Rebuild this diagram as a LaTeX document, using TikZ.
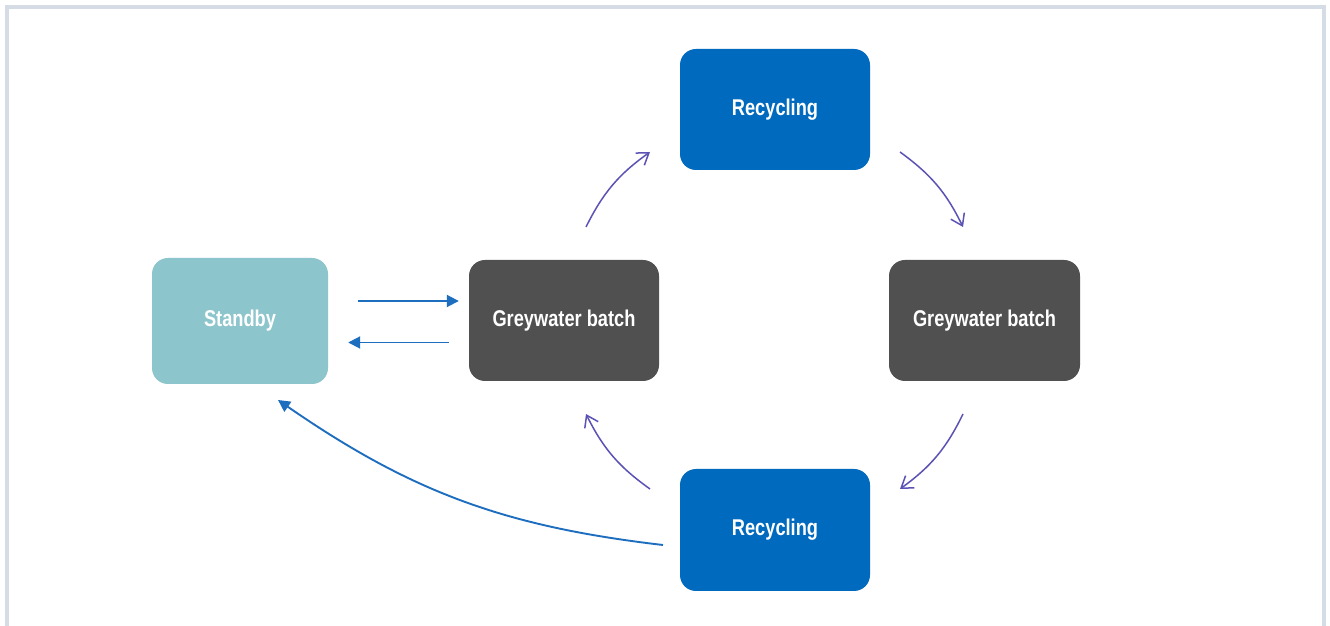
\documentclass[tikz,border=0pt]{standalone}
\usepackage{fontspec}
\setmainfont{Liberation Sans}
\newfontfamily\boxfont[FakeStretch=0.8]{Liberation Sans}
\usetikzlibrary{arrows.meta}
\definecolor{framecol}{HTML}{D6DCE6}
\definecolor{recblue}{HTML}{006ABE}
\definecolor{greybox}{HTML}{505050}
\definecolor{standbycol}{HTML}{8CC5CC}
\definecolor{arrblue}{HTML}{1E6EC0}
\definecolor{arrpurple}{HTML}{5B52B5}
\tikzset{
  box/.style={rounded corners=16pt, minimum width=190pt, minimum height=121pt,
    inner sep=0pt, text=white, font=\boxfont\bfseries\fontsize{22.8}{27}\selectfont},
  recbox/.style={box, fill=recblue},
  greybox/.style={box, fill=greybox},
  standbybox/.style={box, fill=standbycol, minimum width=176pt, minimum height=126pt},
  bluearrow/.style={draw=arrblue, line width=1.9pt, -{Triangle[length=12pt,width=12pt]}},
  purplearrow/.style={draw=arrpurple, line width=1.5pt, -{Straight Barb[length=11pt,width=15pt]}}
}
\begin{document}
\begin{tikzpicture}[x=1pt,y=1pt]
\useasboundingbox (0,0) rectangle (1330,626);
\fill[white] (0,0) rectangle (1330,626);
\draw[framecol, line width=4pt] (7,0) -- (7,619) -- (1323.5,619) -- (1323.5,0);

\node[recbox] (rtop) at (775,516.5) {Recycling};
\node[greybox] (gl) at (564,305.5) {Greywater batch};
\node[greybox, minimum width=191pt] (gr) at (984.5,305.5) {Greywater batch};
\node[recbox, minimum height=122pt] (rbot) at (775,96) {Recycling};
\node[standbybox] (standby) at (240,305) {Standby};

% straight arrows between Standby and Greywater batch
\draw[bluearrow, shorten <=30pt, shorten >=10pt]
  ([yshift=20pt]standby.east) -- ([yshift=20pt]standby.east -| gl.west);
\draw[bluearrow, shorten <=20pt, shorten >=20pt]
  ([yshift=-22pt]gl.west) -- ([yshift=-22pt]gl.west -| standby.east);

% circular arrows
\coordinate (a1s) at (586,399);
\coordinate (a1e) at (650,474);
\coordinate (a2s) at (900,474);
\coordinate (a2e) at (963,399);
\coordinate (a3s) at (963,212);
\coordinate (a3e) at (900,137);
\coordinate (a4s) at (650,137);
\coordinate (a4e) at (586,212);
\draw[purplearrow] (a1s) to[bend left=14] (a1e);
\draw[purplearrow] (a2s) to[bend left=14] (a2e);
\draw[purplearrow] (a3s) to[bend left=14] (a3e);
\draw[purplearrow] (a4s) to[bend left=14] (a4e);

% return arrow to Standby
\coordinate (bs) at (663,81);
\coordinate (be) at (278,226);
\draw[bluearrow] (bs) to[bend left=14] (be);
\end{tikzpicture}
\end{document}
